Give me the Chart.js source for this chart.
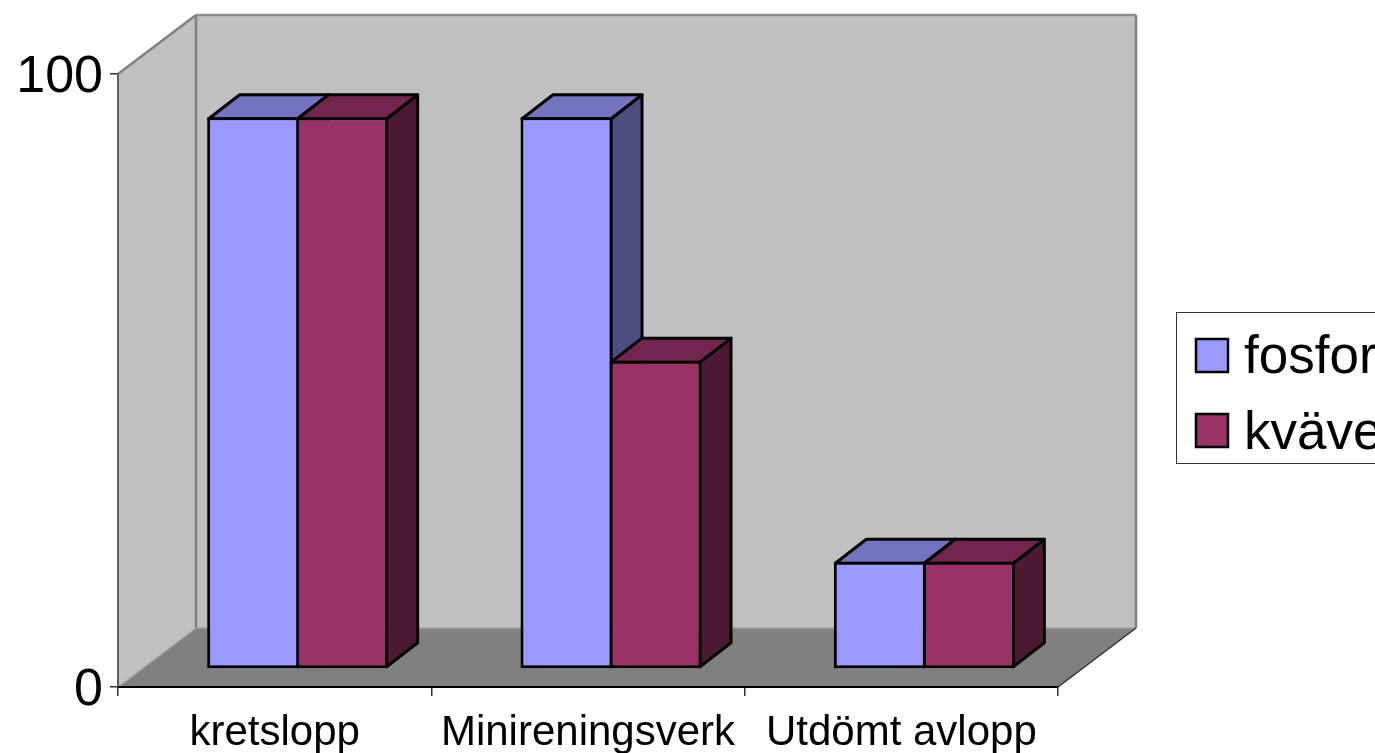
<!DOCTYPE html>
<html>
<head>
<meta charset="utf-8">
<title>Rening</title>
<style>
html, body { margin: 0; padding: 0; background: #fff; overflow: hidden; }
canvas { display: block; }
</style>
<script src="https://cdn.jsdelivr.net/npm/chart.js@4/dist/chart.umd.min.js"></script>
</head>
<body>
<canvas id="chart" width="1375" height="753"></canvas>
<script>
const categories = ['kretslopp', 'Minireningsverk', 'Utdömt avlopp'];
const fosfor = [90, 90, 17.5];
const kvave = [90, 50.3, 17.5];
const yTicks = [0, 100];

const seriesLabels = ['fosfor', 'kväve'];
const faceColors = ['#9999ff', '#993366'];
const topColors = ['#7373bf', '#73264d'];
const sideColors = ['#4d4d80', '#4d1a33'];

// depth of the box and where the bars stand on the floor
const wallDepth = { x: 78, y: -59 };
const barShift = { x: 23, y: -18 };
const barDepth = { x: 31, y: -24 };
const barBorder = 3;

function poly(ctx, pts, fill, stroke, lw) {
    ctx.beginPath();
    ctx.moveTo(pts[0][0], pts[0][1]);
    for (let i = 1; i < pts.length; i++) ctx.lineTo(pts[i][0], pts[i][1]);
    ctx.closePath();
    if (fill) { ctx.fillStyle = fill; ctx.fill(); }
    if (stroke) { ctx.strokeStyle = stroke; ctx.lineWidth = lw; ctx.lineJoin = 'round'; ctx.stroke(); }
}

function line(ctx, x1, y1, x2, y2, color, lw) {
    ctx.beginPath();
    ctx.moveTo(x1, y1);
    ctx.lineTo(x2, y2);
    ctx.strokeStyle = color;
    ctx.lineWidth = lw;
    ctx.stroke();
}

const box3d = {
    id: 'box3d',
    beforeDatasetsDraw(chart) {
        const { ctx, chartArea: a } = chart;
        const dx = wallDepth.x, dy = wallDepth.y;
        ctx.save();
        // back wall, left wall, floor
        poly(ctx, [[a.left + dx, a.top + dy], [a.right + dx, a.top + dy], [a.right + dx, a.bottom + dy], [a.left + dx, a.bottom + dy]], '#c0c0c0');
        poly(ctx, [[a.left, a.top], [a.left + dx, a.top + dy], [a.left + dx, a.bottom + dy], [a.left, a.bottom]], '#c0c0c0');
        poly(ctx, [[a.left, a.bottom], [a.left + dx, a.bottom + dy], [a.right + dx, a.bottom + dy], [a.right, a.bottom]], '#808080');
        line(ctx, a.left, a.top, a.left + dx, a.top + dy, '#808080', 2.5);
        line(ctx, a.left + dx, a.top + dy, a.right + dx, a.top + dy, '#8c8c8c', 2.5);
        line(ctx, a.right + dx, a.top + dy, a.right + dx, a.bottom + dy, '#808080', 2.5);
        line(ctx, a.left + dx, a.top + dy, a.left + dx, a.bottom + dy, '#808080', 2.5);
        line(ctx, a.left + dx, a.bottom + dy, a.right + dx, a.bottom + dy, '#a0a0a0', 1.5);
        line(ctx, a.left, a.bottom, a.left + dx, a.bottom + dy, '#a8a8a8', 1.5);
        line(ctx, a.right, a.bottom, a.right + dx, a.bottom + dy, '#303030', 1.5);
        line(ctx, a.left, a.top, a.left, a.bottom, '#606060', 2);
        line(ctx, a.left, a.bottom, a.right, a.bottom, '#000', 2);

        // sides and tops of the bars, fosfor first so kväve covers it
        ctx.translate(barShift.x, barShift.y);
        const bx = barDepth.x, by = barDepth.y, inset = barBorder / 2;
        [0, 1].forEach(i => {
            chart.getDatasetMeta(i).data.forEach(bar => {
                const l = bar.x - bar.width / 2 + inset, r = bar.x + bar.width / 2 - inset;
                const t = bar.y + inset, b = bar.base - inset;
                poly(ctx, [[r, t], [r + bx, t + by], [r + bx, b + by], [r, b]], sideColors[i], '#000', barBorder);
                poly(ctx, [[l, t], [l + bx, t + by], [r + bx, t + by], [r, t]], topColors[i], '#000', barBorder);
            });
        });
        ctx.restore();
    },
    beforeDatasetDraw(chart) {
        chart.ctx.save();
        chart.ctx.translate(barShift.x, barShift.y);
    },
    afterDatasetDraw(chart) {
        chart.ctx.restore();
    },
    afterDraw(chart) {
        const ctx = chart.ctx;
        ctx.save();
        // legend box runs off the right edge like the original
        ctx.fillStyle = '#fff';
        ctx.fillRect(1176, 312, 199, 152);
        ctx.strokeStyle = '#303030';
        ctx.lineWidth = 1;
        ctx.strokeRect(1176.5, 312.5, 220, 151);
        ctx.font = '53px "Liberation Sans"';
        ctx.textBaseline = 'alphabetic';
        const swatchY = [339, 414], textY = [373, 449];
        seriesLabels.forEach((name, i) => {
            ctx.fillStyle = faceColors[i];
            ctx.fillRect(1196, swatchY[i], 32, 33);
            ctx.strokeStyle = '#000';
            ctx.lineWidth = 2.5;
            ctx.strokeRect(1196, swatchY[i], 32, 33);
            ctx.fillStyle = '#000';
            ctx.fillText(name, 1244, textY[i]);
        });
        ctx.restore();
    }
};

new Chart(document.getElementById('chart'), {
    type: 'bar',
    data: {
        labels: categories,
        datasets: [
            { label: seriesLabels[0], data: fosfor, backgroundColor: faceColors[0], borderColor: '#000', borderWidth: barBorder, borderSkipped: false, clip: false },
            { label: seriesLabels[1], data: kvave, backgroundColor: faceColors[1], borderColor: '#000', borderWidth: barBorder, borderSkipped: false, clip: false }
        ]
    },
    options: {
        responsive: false,
        animation: false,
        layout: { padding: { top: 74, right: 317, left: 0, bottom: 0 } },
        // bars overlap by one border so the seam is a single line
        categoryPercentage: 0.568,
        barPercentage: 1.034,
        scales: {
            x: {
                afterFit(scale) { scale.height = 66; },
                border: { display: false },
                grid: { offset: true, drawOnChartArea: false, drawTicks: true, tickLength: 9, color: '#303030', lineWidth: 1.5 },
                ticks: { color: '#000', font: { family: 'Liberation Sans', size: 42 }, padding: 12, maxRotation: 0, autoSkip: false }
            },
            y: {
                min: 0,
                max: 100,
                afterFit(scale) { scale.width = 118; },
                afterBuildTicks(scale) { scale.ticks = yTicks.map(v => ({ value: v })); },
                border: { display: false },
                grid: { drawOnChartArea: false, drawTicks: true, tickLength: 8, color: '#303030', lineWidth: 1.5 },
                ticks: { color: '#000', font: { family: 'Liberation Sans', size: 52 }, padding: 7, labelOffset: 4 }
            }
        },
        plugins: {
            legend: { display: false },
            tooltip: { enabled: false }
        }
    },
    plugins: [box3d]
});
</script>
</body>
</html>
